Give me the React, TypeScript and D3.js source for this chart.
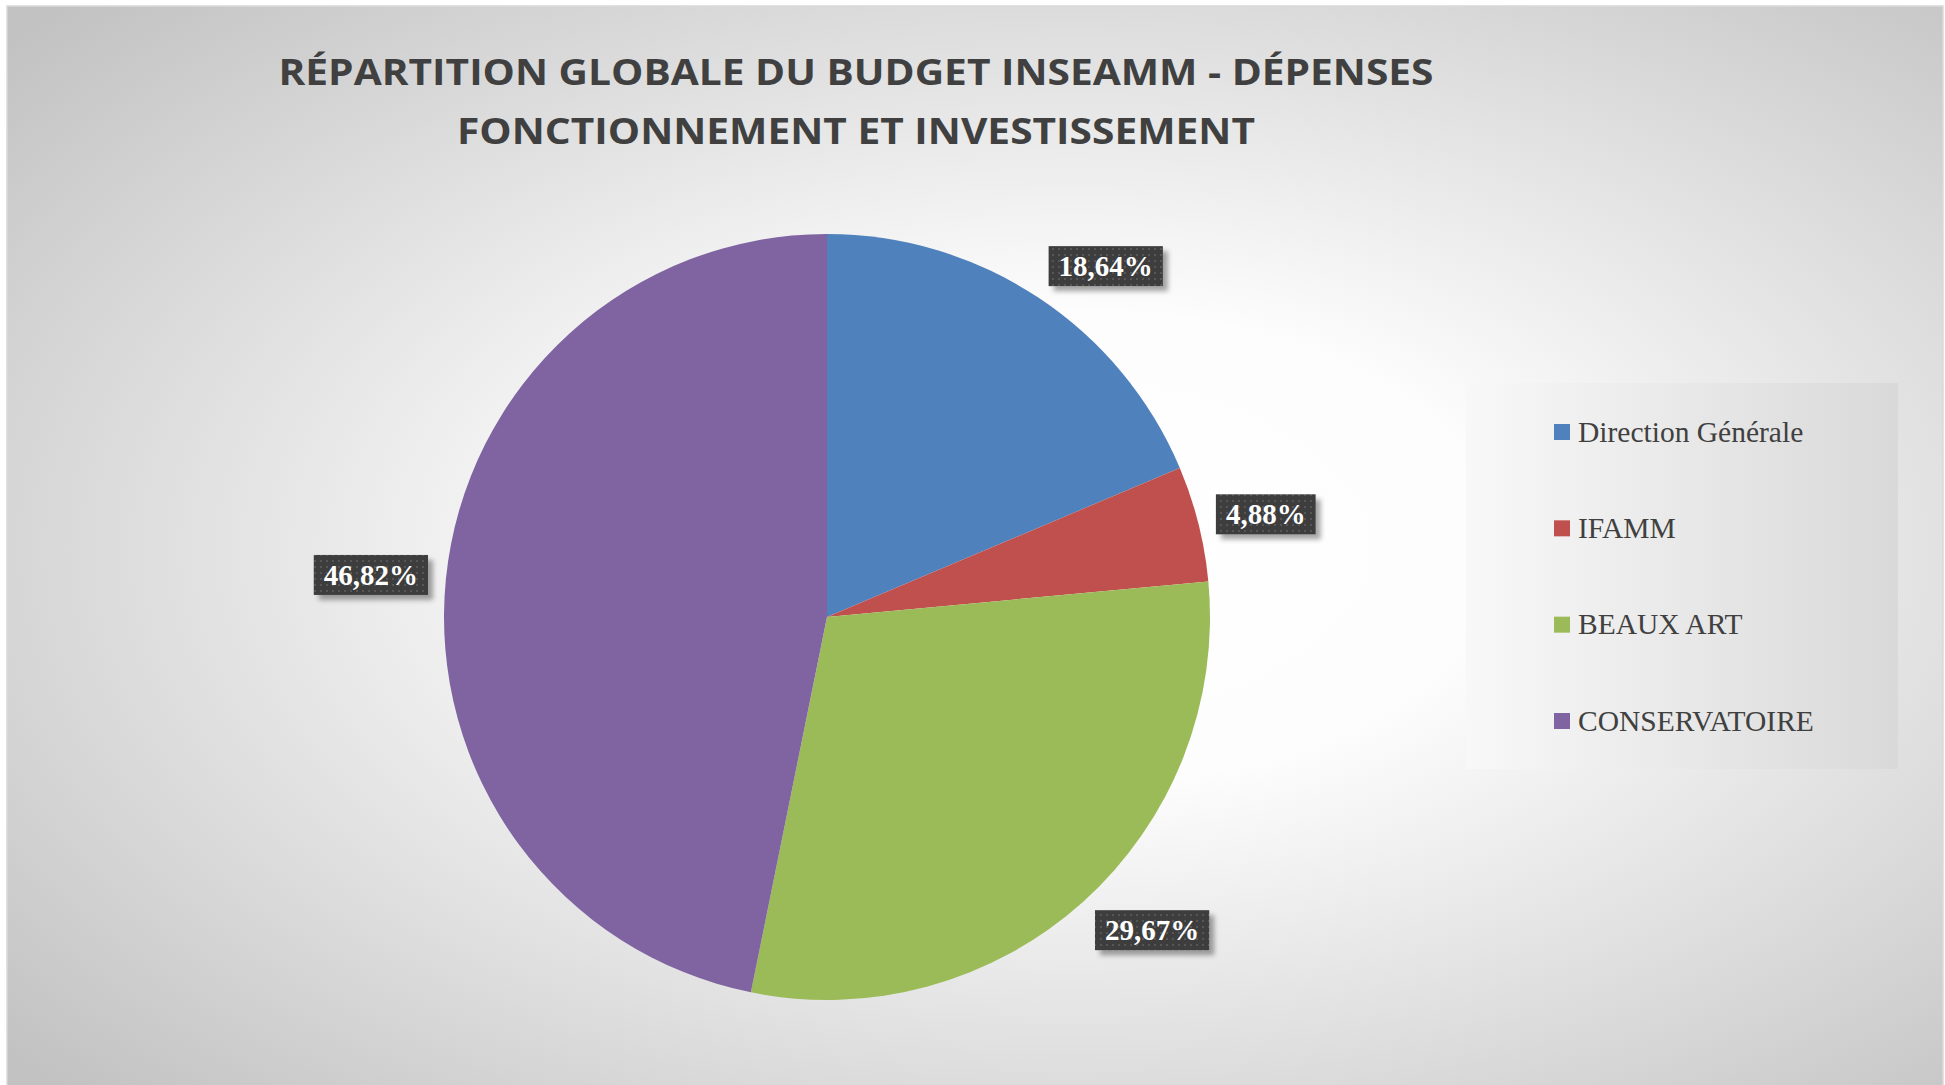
import React, { useEffect, useRef } from "react";
import * as d3 from "d3";

const CATEGORIES = ["Direction Générale", "IFAMM", "BEAUX ART", "CONSERVATOIRE"];
const VALUES = [18.64, 4.88, 29.67, 46.82];
const VALUE_LABELS = ["18,64%", "4,88%", "29,67%", "46,82%"];
const COLORS = ["#4F81BD", "#C0504D", "#9BBB59", "#8064A2"];
const TITLE_LINES = [
  "RÉPARTITION GLOBALE DU BUDGET INSEAMM - DÉPENSES",
  "FONCTIONNEMENT ET INVESTISSEMENT",
];
const TITLE_WIDTHS = [1155, 798];

const W = 1945;
const H = 1085;

export default function App() {
  const ref = useRef<SVGSVGElement | null>(null);

  useEffect(() => {
    const svg = d3.select(ref.current);
    svg.selectAll("*").remove();

    const defs = svg.append("defs");
    const bg = defs
      .append("radialGradient")
      .attr("id", "bgGrad")
      .attr("cx", 0.55)
      .attr("cy", 0.5)
      .attr("r", 0.72)
      .attr("fx", 0.55)
      .attr("fy", 0.5);
    bg.append("stop").attr("offset", "0").attr("stop-color", "#ffffff");
    bg.append("stop").attr("offset", "0.3").attr("stop-color", "#fdfdfd");
    bg.append("stop").attr("offset", "1").attr("stop-color", "#c2c2c2");

    const lg = defs
      .append("linearGradient")
      .attr("id", "legGrad")
      .attr("x1", 0)
      .attr("x2", 1)
      .attr("y1", 0)
      .attr("y2", 0);
    lg.append("stop").attr("offset", "0").attr("stop-color", "#f8f8f8");
    lg.append("stop").attr("offset", "1").attr("stop-color", "#d9d9d9");

    const pat = defs
      .append("pattern")
      .attr("id", "dots")
      .attr("patternUnits", "userSpaceOnUse")
      .attr("width", 6)
      .attr("height", 6);
    pat.append("rect").attr("width", 6).attr("height", 6).attr("fill", "#3e3e3e");
    pat.append("rect").attr("x", 2).attr("y", 2).attr("width", 2).attr("height", 2).attr("fill", "#575757");

    const sh = defs
      .append("filter")
      .attr("id", "shadow")
      .attr("x", "-20%")
      .attr("y", "-30%")
      .attr("width", "150%")
      .attr("height", "180%");
    sh.append("feDropShadow")
      .attr("dx", 5)
      .attr("dy", 5)
      .attr("stdDeviation", 2.5)
      .attr("flood-color", "#000")
      .attr("flood-opacity", 0.35);

    // chart frame
    const frame = { x: 7, y: 6, w: 1936, h: 1085 };
    svg
      .append("rect")
      .attr("x", frame.x)
      .attr("y", frame.y)
      .attr("width", frame.w)
      .attr("height", frame.h)
      .attr("fill", "url(#bgGrad)")
      .attr("stroke", "#d9d9d9")
      .attr("stroke-width", 1.5);

    // title
    const titleX = 856;
    const titleBase = 85;
    const titleStep = 59;
    svg
      .append("g")
      .selectAll("text")
      .data(TITLE_LINES)
      .join("text")
      .attr("x", titleX)
      .attr("y", (_, i) => titleBase + i * titleStep)
      .attr("text-anchor", "middle")
      .attr("font-family", "'Open Sans', Lato, sans-serif")
      .attr("font-weight", 700)
      .attr("font-size", 35)
      .attr("fill", "#404040")
      .attr("textLength", (_, i) => TITLE_WIDTHS[i])
      .attr("lengthAdjust", "spacingAndGlyphs")
      .text((d) => d);

    // pie
    const cx = 827;
    const cy = 617;
    const r = 383;
    const pie = d3
      .pie<number>()
      .sort(null)
      .value((d) => d)
      .startAngle(0)
      .endAngle(2 * Math.PI);
    const arcs = pie(VALUES);
    const arc = d3.arc<d3.PieArcDatum<number>>().innerRadius(0).outerRadius(r);

    const gPie = svg.append("g").attr("transform", `translate(${cx},${cy})`);
    gPie
      .selectAll("path")
      .data(arcs)
      .join("path")
      .attr("d", arc)
      .attr("fill", (_, i) => COLORS[i]);

    // labels
    const gLab = svg.append("g");
    const boxH = 40;
    const pad = 10;
    arcs.forEach((a, i) => {
      const mid = (a.startAngle + a.endAngle) / 2;
      const s = Math.sin(mid);
      const c = Math.cos(mid);
      const g = gLab.append("g");
      const t = g
        .append("text")
        .attr("text-anchor", "middle")
        .attr("font-family", "'Liberation Serif', serif")
        .attr("font-weight", 700)
        .attr("font-size", 29)
        .attr("fill", "#ffffff")
        .text(VALUE_LABELS[i]);
      const tw = (t.node() as SVGTextElement).getComputedTextLength();
      const bw = tw + pad * 2;
      const px = cx + r * s;
      const py = cy - r * c;
      const lx = px + 18 * s + Math.sign(s) * bw / 2;
      const ly = py - 18 * c - c * boxH / 2;
      g.insert("rect", "text")
        .attr("x", lx - bw / 2)
        .attr("y", ly - boxH / 2)
        .attr("width", bw)
        .attr("height", boxH)
        .attr("fill", "url(#dots)")
        .attr("filter", "url(#shadow)");
      t.attr("x", lx).attr("y", ly + 10);
    });

    // legend
    const legBox = { x: 1466, y: 383, w: 432, h: 386 };
    svg
      .append("rect")
      .attr("x", legBox.x)
      .attr("y", legBox.y)
      .attr("width", legBox.w)
      .attr("height", legBox.h)
      .attr("fill", "url(#legGrad)");
    const legY = d3
      .scalePoint<string>()
      .domain(CATEGORIES)
      .range([432, 721]);
    const gLeg = svg.append("g");
    const items = gLeg
      .selectAll("g")
      .data(CATEGORIES)
      .join("g")
      .attr("transform", (d) => `translate(1554,${legY(d)})`);
    items
      .append("rect")
      .attr("x", 0)
      .attr("y", -8)
      .attr("width", 16)
      .attr("height", 16)
      .attr("fill", (_, i) => COLORS[i]);
    items
      .append("text")
      .attr("x", 24)
      .attr("y", 9.5)
      .attr("font-family", "'Liberation Serif', serif")
      .attr("font-size", 29.5)
      .attr("fill", "#404040")
      .text((d) => d);
  }, []);

  return (
    <div style={{ position: "absolute", left: 0, top: 0, background: "#fff" }}>
      <svg ref={ref} width={W} height={H} style={{ display: "block" }} />
    </div>
  );
}
